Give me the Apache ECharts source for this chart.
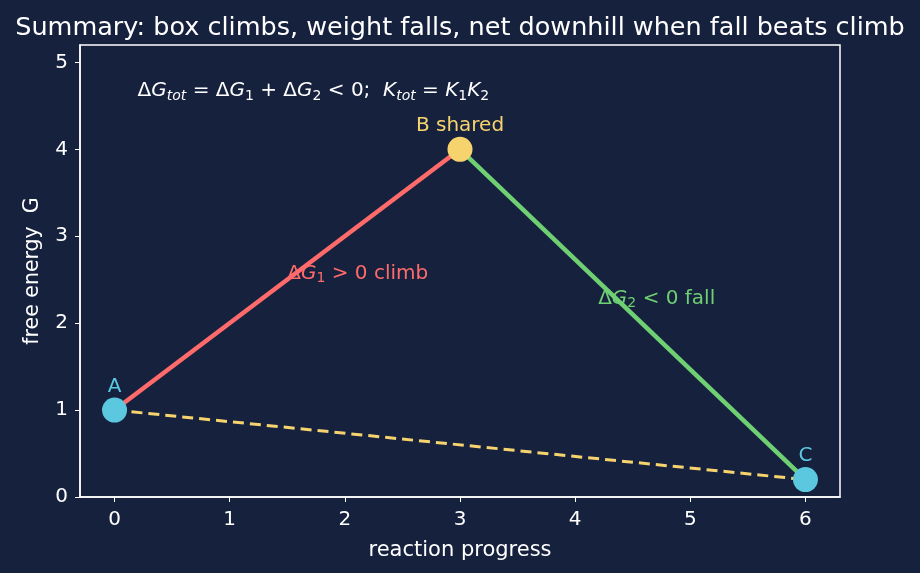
<!DOCTYPE html>
<html>
<head>
<meta charset="utf-8">
<script src="https://cdn.jsdelivr.net/npm/echarts@6/dist/echarts.min.js"></script>
<style>
  html, body { margin: 0; padding: 0; background: #16213e; }
  #chart { width: 920px; height: 573px; }
</style>
</head>
<body>
<div id="chart"></div>
<script>
// states along the reaction coordinate
const stateNames = ['A', 'B shared', 'C']
const stateX = [0, 3, 6]
const stateG = [1, 4, 0.2]
const stateColors = ['#5bc8e0', '#f7d36e', '#5bc8e0']

const xTicks = [0, 1, 2, 3, 4, 5, 6]
const yTicks = [0, 1, 2, 3, 4, 5]

const RED = '#ff6b6b'
const GREEN = '#6fcf73'
const YELLOW = '#f7d36e'
const FONT = 'DejaVu Sans'

const chart = echarts.init(document.getElementById('chart'))

const pt = i => [stateX[i], stateG[i]]

// annotation texts (anchor = left edge, vertical middle)
const notes = [
  {
    value: [0.2, 4.67],
    text: '{t|Δ}{g|G}{s|tot}{t| = Δ}{g|G}{n|1}{t| + Δ}{g|G}{n|2}{t| < 0;  }{g|K}{s|tot}{t| = }{g|K}{n|1}{g|K}{n|2}',
    color: '#ffffff'
  },
  {
    value: [1.5, 2.57],
    text: '{t|Δ}{g|G}{n|1}{t| > 0 climb}',
    color: RED
  },
  {
    value: [4.2, 2.28],
    text: '{t|Δ}{g|G}{n|2}{t| < 0 fall}',
    color: GREEN
  }
]

const richFor = color => ({
  t: { fontFamily: FONT, fontSize: 20, color: color },
  g: { fontFamily: FONT, fontSize: 20, fontStyle: 'italic', color: color },
  s: { fontFamily: FONT, fontSize: 14, fontStyle: 'italic', color: color, padding: [10, 0, 0, 0] },
  n: { fontFamily: FONT, fontSize: 14, color: color, padding: [10, 0, 0, 0] }
})

const option = {
  backgroundColor: '#16213e',
  animation: false,
  title: {
    text: 'Summary: box climbs, weight falls, net downhill when fall beats climb',
    left: 'center',
    top: 10,
    textStyle: { color: '#ffffff', fontFamily: FONT, fontSize: 25.5, fontWeight: 'normal' }
  },
  grid: {
    left: 80, right: 80, top: 45, bottom: 76,
    show: true, borderColor: '#ffffff', borderWidth: 1.5,
    backgroundColor: '#16213e'
  },
  xAxis: {
    type: 'value',
    min: -0.3,
    max: 6.3,
    name: 'reaction progress',
    nameLocation: 'middle',
    nameGap: 43,
    nameTextStyle: { color: '#ffffff', fontFamily: FONT, fontSize: 21 },
    axisLine: { show: true, onZero: false, lineStyle: { color: '#ffffff', width: 1.5 } },
    axisTick: { show: true, length: 5, customValues: xTicks, lineStyle: { color: '#ffffff' } },
    axisLabel: { customValues: xTicks, color: '#ffffff', fontFamily: FONT, fontSize: 20, margin: 13 },
    splitLine: { show: false }
  },
  yAxis: {
    type: 'value',
    min: 0,
    max: 5.2,
    name: 'free energy  G',
    nameLocation: 'middle',
    nameGap: 37,
    nameTextStyle: { color: '#ffffff', fontFamily: FONT, fontSize: 20.5 },
    axisLine: { show: true, onZero: false, lineStyle: { color: '#ffffff', width: 1.5 } },
    axisTick: { show: true, length: 5, customValues: yTicks, lineStyle: { color: '#ffffff' } },
    axisLabel: { customValues: yTicks, color: '#ffffff', fontFamily: FONT, fontSize: 20, margin: 12 },
    splitLine: { show: false }
  },
  series: [
    {
      type: 'line',
      data: [pt(0), pt(2)],
      symbol: 'none',
      lineStyle: { color: YELLOW, width: 3, type: [11, 6] },
      z: 2
    },
    {
      type: 'line',
      data: [pt(0), pt(1)],
      symbol: 'none',
      lineStyle: { color: RED, width: 4.5 },
      z: 3
    },
    {
      type: 'line',
      data: [pt(1), pt(2)],
      symbol: 'none',
      lineStyle: { color: GREEN, width: 4.5 },
      z: 3
    },
    {
      type: 'scatter',
      symbolSize: 25,
      z: 5,
      data: stateNames.map((n, i) => ({
        value: pt(i),
        itemStyle: { color: stateColors[i], opacity: 1 },
        label: {
          show: true,
          position: 'top',
          distance: 1,
          formatter: n,
          color: stateColors[i],
          fontFamily: FONT,
          fontSize: 20
        }
      }))
    },
    {
      type: 'scatter',
      symbolSize: 0,
      silent: true,
      z: 6,
      itemStyle: { opacity: 1 },
      data: notes.map(n => ({
        value: n.value,
        label: {
          show: true,
          position: 'right',
          distance: 0,
          formatter: n.text,
          rich: richFor(n.color)
        }
      }))
    }
  ]
}

chart.setOption(option)
</script>
</body>
</html>
